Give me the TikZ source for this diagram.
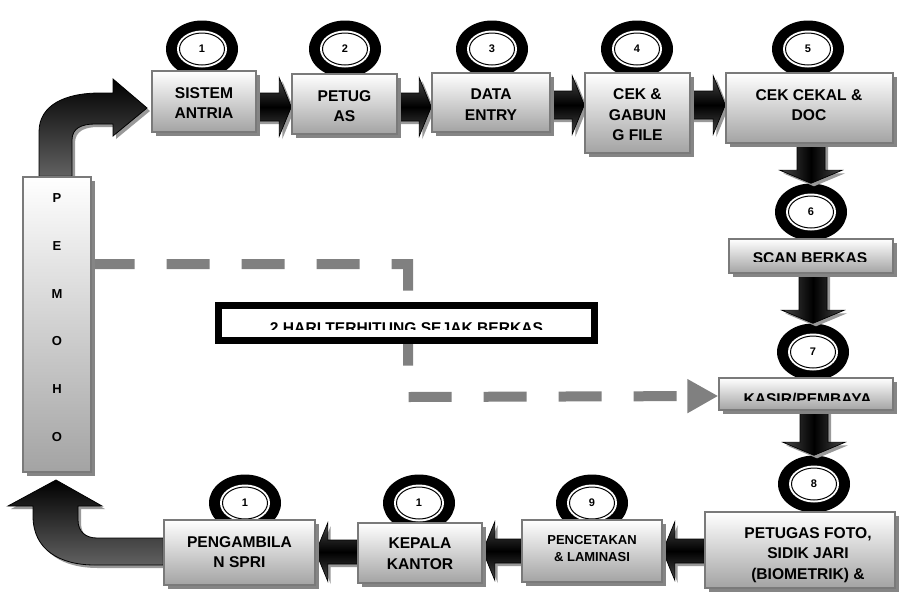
\documentclass[tikz,border=0pt]{standalone}
\usepackage{fontspec}
\setmainfont{Liberation Sans}
\usetikzlibrary{calc,shapes.geometric,shadows,arrows.meta}
\pgfdeclarelayer{bg}
\pgfdeclarelayer{circ}
\pgfdeclarelayer{arr}
\pgfsetlayers{bg,circ,arr,main}
\newcommand\bx[5]{\node[box, minimum width={#4-#2}, minimum height={#5-#3}] (#1) at ({(#2+#4)/2},{(#3+#5)/2}) {};}
\newcommand\arrR[3]{\path[blkh] ($(#1.east|-0,#3)+(0,-14)$) -- ($(#2.west|-0,#3)+(-12,-14)$) -- ($(#2.west|-0,#3)+(-12,-29)$) -- (#2.west|-0,#3) -- ($(#2.west|-0,#3)+(-12,29)$) -- ($(#2.west|-0,#3)+(-12,14)$) -- ($(#1.east|-0,#3)+(0,14)$) -- cycle;}
\newcommand\arrL[3]{\path[blkh] ($(#1.west|-0,#3)+(0,-12)$) -- ($(#2.east|-0,#3)+(12,-12)$) -- ($(#2.east|-0,#3)+(12,-29)$) -- (#2.east|-0,#3) -- ($(#2.east|-0,#3)+(12,29)$) -- ($(#2.east|-0,#3)+(12,12)$) -- ($(#1.west|-0,#3)+(0,12)$) -- cycle;}
\newcommand\arrD[2]{\path[blkv] ($(#1.south-|#2.north)+(-14,0)$) -- ($(#2.north)+(-14,-13)$) -- ($(#2.north)+(-31,-13)$) -- (#2.north) -- ($(#2.north)+(31,-13)$) -- ($(#2.north)+(14,-13)$) -- ($(#1.south-|#2.north)+(14,0)$) -- cycle;}
\begin{document}
\begin{tikzpicture}[x=1pt,y=-1pt,
  shd/.style={drop shadow={shadow xshift=3.5pt,shadow yshift=-3.5pt,fill=black!48,opacity=1}},
  ashd/.style={drop shadow={shadow xshift=3pt,shadow yshift=-3pt,fill=black!40,opacity=1}},
  box/.style={draw=black!52, line width=1.4pt, top color=white, bottom color=black!36, inner sep=0pt, shd},
  lbl/.style={font=\fontsize{15.6}{20.5}\selectfont\bfseries, inner sep=0pt},
  lblm/.style={lbl, align=center},
  circ/.style={ellipse, fill=black, minimum width=72pt, minimum height=57pt, inner sep=0pt,
    font=\fontsize{11}{12}\selectfont\bfseries,
    path picture={\fill[white] (path picture bounding box.center) ellipse [x radius=25pt, y radius=18.5pt];
      \draw[line width=1pt] (path picture bounding box.center) ellipse [x radius=22.5pt, y radius=16pt];}},
  blkh/.style={draw=black, line width=0.7pt, top color=black!72, bottom color=black!72, middle color=black, ashd},
  blkv/.style={draw=black, line width=0.7pt, left color=black!72, right color=black!72, middle color=black, ashd},
  blkc/.style={draw=black, line width=0.8pt, top color=black, bottom color=black!62, ashd},
  dashconn/.style={draw=black!50, line width=10pt, dash pattern=on 43pt off 32pt, -{Triangle[length=31pt,width=32pt]}},
  note/.style={draw=black, line width=7pt, fill=white, inner sep=0pt}]

\begin{pgfonlayer}{bg}
  \fill[white] (0,0) rectangle (901,592);
\end{pgfonlayer}
\useasboundingbox (0,0) rectangle (901,592);

% boxes
\bx{b1}{152}{71}{256}{132}
\bx{b2}{292}{74}{397}{134}
\bx{b3}{432}{73}{550}{132}
\bx{b4}{585}{73}{690}{153}
\bx{b5}{726}{73}{893}{143}
\bx{b6}{729}{239}{893}{273}
\bx{b7}{719}{378}{893}{410}
\bx{b8}{705}{512}{895}{588}
\bx{b9}{522}{520}{662}{582}
\bx{b10}{358}{523}{482}{583}
\bx{b11}{164}{520}{315}{585}
\bx{pem}{23}{177}{91}{472}

% circles
\begin{pgfonlayer}{circ}
  \node[circ] (c1) at (202,49) {1};
  \node[circ] (c2) at (345,49) {2};
  \node[circ] (c3) at (492,49) {3};
  \node[circ] (c4) at (637,49) {4};
  \node[circ] (c5) at (808,49) {5};
  \node[circ] (c6) at (811,212) {6};
  \node[circ] (c7) at (813,352) {7};
  \node[circ] (c8) at (814,484) {8};
  \node[circ] (c9) at (592,503) {9};
  \node[circ] (c10) at (419,503) {1};
  \node[circ] (c11) at (245,503) {1};
\end{pgfonlayer}

% note box
\node[note, minimum width=376pt, minimum height=35pt] (note) at (406.5,323) {};
\begin{scope}
  \clip (222,309) rectangle (591,329.5);
  \node[lbl, anchor=base] (tnote) at (406.5,333.5) {2 HARI TERHITUNG SEJAK BERKAS};
\end{scope}

% texts
\node[lblm] (t1) at (204,103) {SISTEM\\ANTRIA};
\node[lblm] (t2) at (344.5,106) {PETUG\\AS};
\node[lblm] (t3) at (491,104.5) {DATA\\ENTRY};
\node[lblm] (t4) at (637.5,115) {CEK \&\\GABUN\\G FILE};
\node[lblm] (t5) at (809,105) {CEK CEKAL \&\\DOC};
\begin{scope}
  \clip (730,240) rectangle (892,261);
  \node[lbl, anchor=base] (t6) at (810,263.5) {SCAN BERKAS};
\end{scope}
\begin{scope}
  \clip (720,379) rectangle (892,400.5);
  \node[lbl, anchor=base] (t7) at (807.5,404.5) {KASIR/PEMBAYA};
\end{scope}
\node[lblm] (t8) at (808,555) {PETUGAS FOTO,\\SIDIK JARI\\(BIOMETRIK) \&};
\node[lblm, font=\fontsize{13}{17}\selectfont\bfseries] (t9) at (592,548.5) {PENCETAKAN\\\& LAMINASI};
\node[lblm] (t10) at (420,553.5) {KEPALA\\KANTOR};
\node[lblm] (t11) at (239.5,552) {PENGAMBILA\\N SPRI};
\node[lblm, font=\fontsize{13}{47.8}\selectfont\bfseries] (tp) at (57,317.5) {P\\E\\M\\O\\H\\O};

% connectors
\begin{pgfonlayer}{arr}
  \draw[dashconn] (pem.east|-0,264) -- (408,264) -- (408,397) -- (b7.west|-0,396);
  \arrR{b1}{b2}{107}
  \arrR{b2}{b3}{107}
  \arrR{b3}{b4}{105}
  \arrR{b4}{b5}{105}
  \arrD{b5}{c6}
  \arrD{b6}{c7}
  \arrD{b7}{c8}
  \arrL{b8}{b9}{551}
  \arrL{b9}{b10}{551}
  \arrL{b10}{b11}{552}
  \path[blkc] (pem.north-|39,0) -- (39,132) .. controls (39,105) and (65,93) .. (100,93) -- (113,93) -- (113,79) -- (147,108) -- (113,136) -- (113,124) -- (95,124) .. controls (82,124) and (72,128) .. (72,140) -- (pem.north-|72,0) -- cycle;
  \path[blkc] (b11.west|-0,538) -- (97,538) .. controls (86,538) and (78,532) .. (78,520) -- (78,506) -- (102,506) -- (56,480) -- (8,506) -- (33,506) -- (33,516) .. controls (33,550) and (60,565) .. (95,565) -- (b11.west|-0,565) -- cycle;
\end{pgfonlayer}
\end{tikzpicture}
\end{document}
